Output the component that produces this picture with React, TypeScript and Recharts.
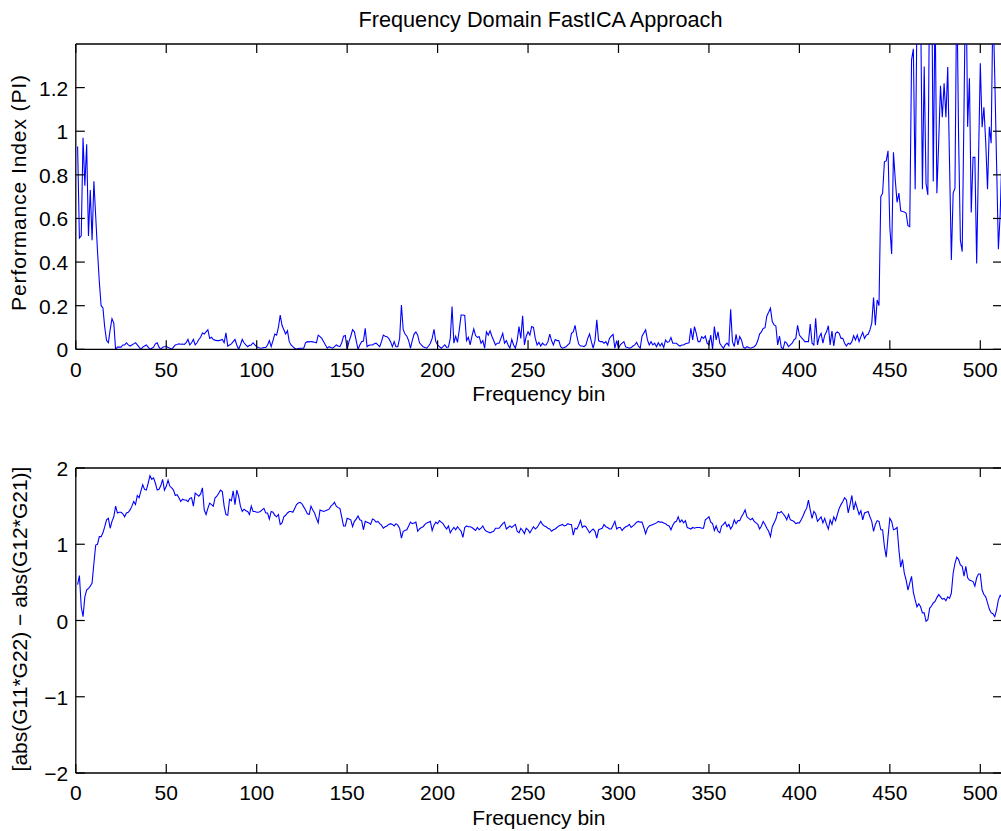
import React from 'react'
import { LineChart, Line, XAxis, YAxis, ReferenceLine } from 'recharts'

// performance index per frequency bin (bins 1..512)
const perfIndex = [
  0.93, 0.51, 0.52, 0.97, 0.75, 0.94, 0.52, 0.73, 0.50, 0.77, 0.61, 0.45, 0.31, 0.20, 0.19, 0.10,
  0.04, 0.03, 0.09, 0.14, 0.12, 0.00, 0.01, 0.01, 0.01, 0.02, 0.02, 0.03, 0.02, 0.015, 0.02, 0.025,
  0.03, 0.02, 0.01, 0.0, 0.01, 0.015, 0.02, 0.01, 0.0, 0.005, 0.01, 0.025, 0.03, 0.01, 0.0, 0.01,
  0.012, 0.015, 0.008, 0.005, 0.0, 0.01, 0.02, 0.022, 0.025, 0.023, 0.024, 0.022, 0.03, 0.045, 0.02, 0.03,
  0.045, 0.02, 0.03, 0.045, 0.055, 0.075, 0.07, 0.08, 0.09, 0.05, 0.055, 0.045, 0.042, 0.04, 0.04, 0.042,
  0.045, 0.03, 0.075, 0.015, 0.02, 0.025, 0.035, 0.045, 0.02, 0.0, 0.02, 0.045, 0.03, 0.02, 0.012, 0.018,
  0.02, 0.03, 0.02, 0.012, 0.008, 0.005, 0.006, 0.008, 0.008, 0.02, 0.04, 0.012, 0.04, 0.07, 0.065, 0.1,
  0.157, 0.11, 0.09, 0.07, 0.085, 0.035, 0.02, 0.012, 0.005, 0.0, 0.004, 0.005, 0.005, 0.005, 0.03, 0.035,
  0.034, 0.036, 0.034, 0.032, 0.03, 0.065, 0.058, 0.05, 0.035, 0.02, 0.005, 0.012, 0.008, 0.005, 0.012, 0.02,
  0.015, 0.012, 0.03, 0.06, 0.063, 0.0, 0.035, 0.06, 0.09, 0.08, 0.04, 0.0, 0.02, 0.035, 0.038, 0.096,
  0.012, 0.018, 0.02, 0.02, 0.025, 0.028, 0.02, 0.012, 0.035, 0.065, 0.06, 0.058, 0.05, 0.035, 0.012, 0.035,
  0.012, 0.012, 0.05, 0.203, 0.09, 0.07, 0.06, 0.04, 0.005, 0.04, 0.07, 0.08, 0.065, 0.03, 0.02, 0.012,
  0.008, 0.005, 0.015, 0.028, 0.05, 0.092, 0.035, 0.02, 0.012, 0.005, 0.012, 0.02, 0.009, 0.01, 0.05, 0.196,
  0.028, 0.06, 0.032, 0.09, 0.157, 0.157, 0.155, 0.04, 0.055, 0.02, 0.06, 0.093, 0.063, 0.055, 0.058, 0.028,
  0.04, 0.005, 0.08, 0.065, 0.085, 0.06, 0.04, 0.02, 0.028, 0.028, 0.05, 0.073, 0.028, 0.04, 0.02, 0.005,
  0.045, 0.02, 0.005, 0.04, 0.104, 0.05, 0.154, 0.02, 0.06, 0.08, 0.065, 0.104, 0.1, 0.05, 0.02, 0.032,
  0.015, 0.028, 0.02, 0.02, 0.035, 0.07, 0.04, 0.02, 0.045, 0.04, 0.04, 0.012, 0.005, 0.008, 0.012, 0.02,
  0.028, 0.073, 0.08, 0.11, 0.06, 0.024, 0.015, 0.015, 0.012, 0.02, 0.05, 0.07, 0.035, 0.005, 0.04, 0.135,
  0.04, 0.035, 0.035, 0.028, 0.035, 0.02, 0.05, 0.06, 0.068, 0.005, 0.04, 0.005, 0.02, 0.028, 0.035, 0.01,
  0.008, 0.005, 0.008, 0.015, 0.02, 0.032, 0.015, 0.005, 0.06, 0.075, 0.089, 0.043, 0.02, 0.035, 0.02, 0.028,
  0.012, 0.03, 0.015, 0.028, 0.008, 0.043, 0.032, 0.035, 0.054, 0.028, 0.028, 0.028, 0.02, 0.015, 0.02, 0.02,
  0.025, 0.028, 0.03, 0.096, 0.043, 0.104, 0.073, 0.035, 0.035, 0.058, 0.05, 0.061, 0.028, 0.02, 0.065, 0.0,
  0.104, 0.043, 0.08, 0.028, 0.015, 0.005, 0.02, 0.028, 0.017, 0.183, 0.035, 0.012, 0.069, 0.02, 0.058, 0.043,
  0.01, 0.005, 0.012, 0.008, 0.005, 0.008, 0.012, 0.02, 0.04, 0.07, 0.08, 0.096, 0.099, 0.153, 0.17, 0.188,
  0.127, 0.112, 0.107, 0.02, 0.061, 0.009, 0.002, 0.035, 0.028, 0.012, 0.02, 0.028, 0.043, 0.05, 0.11, 0.065,
  0.055, 0.046, 0.035, 0.035, 0.035, 0.116, 0.028, 0.02, 0.142, 0.02, 0.058, 0.073, 0.028, 0.065, 0.08, 0.108,
  0.02, 0.084, 0.015, 0.073, 0.08, 0.073, 0.05, 0.05, 0.028, 0.015, 0.028, 0.023, 0.035, 0.063, 0.043, 0.065,
  0.035, 0.058, 0.078, 0.05, 0.065, 0.069, 0.089, 0.12, 0.237, 0.11, 0.226, 0.2, 0.70, 0.716, 0.86, 0.864,
  0.91, 0.56, 0.437, 0.904, 0.777, 0.674, 0.716, 0.635, 0.632, 0.63, 0.624, 0.567, 0.563, 1.327, 1.378, 0.734,
  1.55, 1.8, 1.6, 0.734, 1.297, 0.761, 0.708, 1.7, 1.9, 0.769, 1.6, 0.716, 0.95, 1.208, 1.064, 1.22,
  1.064, 1.294, 0.853, 0.41, 0.716, 0.739, 1.7, 0.975, 0.5, 0.448, 1.1, 1.8, 1.02, 1.243, 0.627, 0.88,
  0.88, 0.394, 0.86, 1.312, 1.018, 1.11, 0.95, 0.734, 1.02, 0.945, 1.6, 1.25, 0.853, 0.459, 0.62, 0.9,
]

// abs(G11*G22) - abs(G12*G21) per frequency bin (bins 1..512)
const gainDiff = [
  0.47, 0.59, 0.18, 0.05, 0.31, 0.40, 0.42, 0.45, 0.49, 0.75, 0.99, 1.00, 1.10, 1.10, 1.15, 1.23,
  1.32, 1.34, 1.21, 1.30, 1.36, 1.50, 1.41, 1.42, 1.42, 1.40, 1.36, 1.41, 1.42, 1.45, 1.50, 1.56,
  1.52, 1.64, 1.61, 1.70, 1.78, 1.72, 1.71, 1.80, 1.90, 1.85, 1.87, 1.80, 1.71, 1.72, 1.77, 1.85,
  1.71, 1.76, 1.84, 1.76, 1.74, 1.71, 1.64, 1.65, 1.61, 1.56, 1.59, 1.58, 1.58, 1.56, 1.60, 1.61,
  1.50, 1.67, 1.65, 1.63, 1.66, 1.74, 1.45, 1.39, 1.47, 1.54, 1.52, 1.50, 1.61, 1.63, 1.67, 1.71,
  1.69, 1.50, 1.39, 1.38, 1.59, 1.57, 1.70, 1.52, 1.71, 1.63, 1.50, 1.43, 1.46, 1.44, 1.43, 1.39,
  1.50, 1.43, 1.43, 1.42, 1.42, 1.43, 1.45, 1.47, 1.41, 1.41, 1.33, 1.43, 1.42, 1.38, 1.36, 1.39,
  1.26, 1.28, 1.36, 1.38, 1.41, 1.43, 1.43, 1.42, 1.47, 1.52, 1.54, 1.55, 1.53, 1.49, 1.45, 1.40,
  1.39, 1.50, 1.45, 1.41, 1.34, 1.28, 1.45, 1.44, 1.43, 1.44, 1.45, 1.46, 1.50, 1.52, 1.55, 1.50,
  1.48, 1.47, 1.36, 1.24, 1.24, 1.34, 1.33, 1.32, 1.23, 1.30, 1.33, 1.37, 1.32, 1.31, 1.19, 1.30,
  1.29, 1.28, 1.26, 1.33, 1.32, 1.29, 1.30, 1.27, 1.25, 1.21, 1.23, 1.24, 1.26, 1.27, 1.26, 1.24,
  1.27, 1.25, 1.21, 1.08, 1.17, 1.18, 1.19, 1.24, 1.29, 1.27, 1.28, 1.29, 1.17, 1.20, 1.22, 1.23,
  1.26, 1.28, 1.29, 1.30, 1.18, 1.25, 1.29, 1.27, 1.31, 1.29, 1.27, 1.23, 1.20, 1.24, 1.15, 1.19,
  1.22, 1.19, 1.23, 1.20, 1.17, 1.09, 1.22, 1.24, 1.23, 1.23, 1.22, 1.20, 1.18, 1.22, 1.19, 1.21,
  1.24, 1.19, 1.17, 1.16, 1.15, 1.16, 1.17, 1.21, 1.21, 1.21, 1.24, 1.27, 1.29, 1.20, 1.22, 1.24,
  1.22, 1.24, 1.26, 1.17, 1.15, 1.21, 1.18, 1.14, 1.21, 1.19, 1.15, 1.19, 1.23, 1.20, 1.22, 1.26,
  1.30, 1.26, 1.24, 1.23, 1.21, 1.20, 1.17, 1.19, 1.20, 1.22, 1.24, 1.25, 1.26, 1.24, 1.25, 1.27,
  1.26, 1.26, 1.12, 1.21, 1.20, 1.25, 1.31, 1.22, 1.24, 1.23, 1.19, 1.15, 1.18, 1.20, 1.17, 1.08,
  1.19, 1.20, 1.21, 1.26, 1.23, 1.22, 1.20, 1.20, 1.25, 1.30, 1.20, 1.22, 1.22, 1.18, 1.21, 1.23,
  1.24, 1.26, 1.22, 1.24, 1.26, 1.29, 1.30, 1.29, 1.29, 1.22, 1.14, 1.21, 1.24, 1.25, 1.26, 1.27,
  1.28, 1.30, 1.29, 1.29, 1.28, 1.27, 1.25, 1.24, 1.19, 1.25, 1.29, 1.30, 1.36, 1.29, 1.32, 1.28,
  1.31, 1.22, 1.21, 1.20, 1.22, 1.21, 1.22, 1.22, 1.22, 1.21, 1.21, 1.32, 1.34, 1.36, 1.29, 1.27,
  1.18, 1.24, 1.17, 1.15, 1.24, 1.26, 1.29, 1.23, 1.26, 1.20, 1.24, 1.32, 1.27, 1.31, 1.31, 1.36,
  1.40, 1.45, 1.36, 1.34, 1.32, 1.34, 1.30, 1.28, 1.26, 1.20, 1.24, 1.30, 1.26, 1.21, 1.17, 1.10,
  1.23, 1.28, 1.33, 1.42, 1.41, 1.43, 1.40, 1.37, 1.32, 1.39, 1.32, 1.31, 1.30, 1.27, 1.28, 1.28,
  1.32, 1.37, 1.43, 1.47, 1.58, 1.45, 1.34, 1.43, 1.40, 1.30, 1.33, 1.36, 1.28, 1.34, 1.26, 1.20,
  1.32, 1.26, 1.36, 1.31, 1.39, 1.47, 1.52, 1.56, 1.61, 1.58, 1.41, 1.52, 1.64, 1.45, 1.55, 1.47,
  1.39, 1.44, 1.32, 1.41, 1.42, 1.43, 1.36, 1.30, 1.17, 1.26, 1.31, 1.30, 1.19, 1.19, 0.97, 0.83,
  1.10, 1.34, 1.30, 1.19, 1.20, 1.22, 0.93, 0.70, 0.80, 0.62, 0.53, 0.40, 0.49, 0.58, 0.37, 0.27,
  0.18, 0.22, 0.18, 0.10, 0.10, -0.01, 0.01, 0.16, 0.19, 0.23, 0.25, 0.30, 0.34, 0.31, 0.28, 0.29,
  0.26, 0.31, 0.29, 0.36, 0.62, 0.75, 0.83, 0.80, 0.73, 0.71, 0.58, 0.71, 0.56, 0.53, 0.52, 0.51,
  0.45, 0.56, 0.61, 0.61, 0.40, 0.34, 0.31, 0.23, 0.15, 0.10, 0.09, 0.05, 0.14, 0.27, 0.33, 0.30,
]

const binTicks = [0, 50, 100, 150, 200, 250, 300, 350, 400, 450, 500]
const piTicks = [0, 0.2, 0.4, 0.6, 0.8, 1, 1.2]
const diffTicks = [-2, -1, 0, 1, 2]

const topData = perfIndex.map((v, i) => ({ bin: i + 1, pi: v }))
const bottomData = gainDiff.map((v, i) => ({ bin: i + 1, diff: v }))

const FONT = '"Liberation Sans", Arial, Helvetica, sans-serif'
const FS = 21
const PLOT_LEFT = 75.8
const PLOT_W = 926.2
const TICK = 9
const AXIS = { stroke: '#000', strokeWidth: 1.3 }

const fmt = (v: number) => (v < 0 ? '\u2212' + Math.abs(v) : String(v))

// bottom axis tick: inward marks on bottom + top edges, label below
function makeXTick(plotTop: number, plotBottom: number) {
  return (props: any) => {
    const { x, payload } = props
    return (
      <g>
        <line x1={x} x2={x} y1={plotBottom} y2={plotBottom - TICK} stroke="#000" strokeWidth={1.2} />
        <line x1={x} x2={x} y1={plotTop} y2={plotTop + TICK} stroke="#000" strokeWidth={1.2} />
        <text x={x} y={plotBottom + 27.3} textAnchor="middle" fontSize={FS} fontFamily={FONT} fill="#000">
          {fmt(payload.value)}
        </text>
      </g>
    )
  }
}

// left axis tick: inward marks on left + right edges, label to the left
function YTick(props: any) {
  const { y, payload } = props
  const right = PLOT_LEFT + PLOT_W
  return (
    <g>
      <line x1={PLOT_LEFT} x2={PLOT_LEFT + TICK} y1={y} y2={y} stroke="#000" strokeWidth={1.2} />
      <line x1={right - TICK} x2={right} y1={y} y2={y} stroke="#000" strokeWidth={1.2} />
      <text x={PLOT_LEFT - 7.5} y={y + 8} textAnchor="end" fontSize={FS} fontFamily={FONT} fill="#000">
        {fmt(payload.value)}
      </text>
    </g>
  )
}

const topXTick = makeXTick(44, 349.3)
const bottomXTick = makeXTick(48, 353)

export default function App() {
  return (
    <div style={{ position: 'absolute', left: 0, top: 0, width: 1001, height: 831, overflow: 'hidden', background: '#fff' }}>
      <div style={{ position: 'absolute', left: 0, top: 0 }}>
        <LineChart width={1010} height={420} data={topData} margin={{ top: 44, right: 8, bottom: 10.7, left: 0 }}>
          <XAxis
            dataKey="bin"
            type="number"
            domain={[0, 512]}
            ticks={binTicks}
            interval={0}
            tickSize={0}
            tickMargin={12}
            height={60}
            axisLine={AXIS}
            tickLine={false}
            tick={topXTick}
          />
          <YAxis
            type="number"
            domain={[0, 1.4]}
            ticks={piTicks}
            interval={0}
            allowDataOverflow
            tickSize={0}
            width={PLOT_LEFT}
            axisLine={AXIS}
            tickLine={false}
            tick={YTick}
          />
          <ReferenceLine y={1.4} stroke="#000" strokeWidth={1.3} />
          <ReferenceLine x={512} stroke="#000" strokeWidth={1.3} />
          <Line type="linear" dataKey="pi" stroke="#0000ff" strokeWidth={1.1} dot={false} isAnimationActive={false} />
        </LineChart>
      </div>

      <div style={{ position: 'absolute', left: 0, top: 420 }}>
        <LineChart width={1010} height={411} data={bottomData} margin={{ top: 48, right: 8, bottom: 8, left: 0 }}>
          <XAxis
            dataKey="bin"
            type="number"
            domain={[0, 512]}
            ticks={binTicks}
            interval={0}
            tickSize={0}
            tickMargin={12}
            height={50}
            axisLine={AXIS}
            tickLine={false}
            tick={bottomXTick}
          />
          <YAxis
            type="number"
            domain={[-2, 2]}
            ticks={diffTicks}
            interval={0}
            allowDataOverflow
            tickSize={0}
            width={PLOT_LEFT}
            axisLine={AXIS}
            tickLine={false}
            tick={YTick}
          />
          <ReferenceLine y={2} stroke="#000" strokeWidth={1.3} />
          <ReferenceLine x={512} stroke="#000" strokeWidth={1.3} />
          <Line type="linear" dataKey="diff" stroke="#0000ff" strokeWidth={1.1} dot={false} isAnimationActive={false} />
        </LineChart>
      </div>

      <svg width={1001} height={831} style={{ position: 'absolute', left: 0, top: 0, pointerEvents: 'none' }}>
        <g fontFamily={FONT} fill="#000">
          <text x={540.5} y={27} textAnchor="middle" fontSize={21.7}>Frequency Domain FastICA Approach</text>
          <text x={538.9} y={401} textAnchor="middle" fontSize={FS}>Frequency bin</text>
          <text x={538.9} y={825} textAnchor="middle" fontSize={FS}>Frequency bin</text>
          <text transform="translate(26,192.5) rotate(-90)" textAnchor="middle" fontSize={FS} letterSpacing={0.9}>
            Performance Index (PI)
          </text>
          <text transform="translate(26.5,619) rotate(-90)" textAnchor="middle" fontSize={FS}>
            [abs(G11*G22) {'\u2212'} abs(G12*G21)]
          </text>
        </g>
      </svg>
    </div>
  )
}
